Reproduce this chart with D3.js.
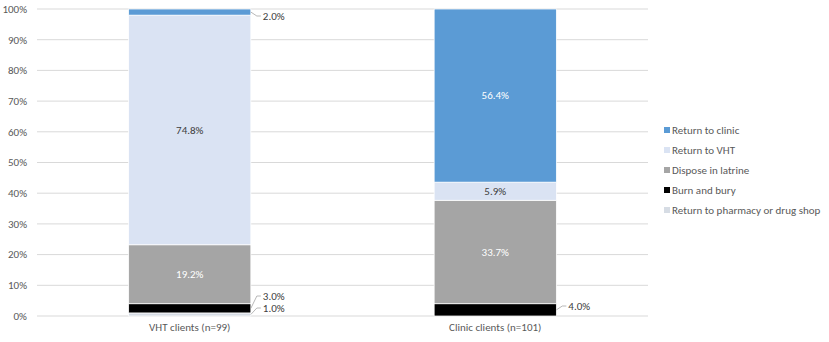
<!DOCTYPE html>
<html>
<head>
<meta charset="utf-8">
<script src="https://cdn.jsdelivr.net/npm/d3@7"></script>
<style>
  body { margin: 0; background: #fff; }
  svg text { font-family: Carlito, Lato, "Liberation Sans", sans-serif; }
</style>
</head>
<body>
<div id="chart"></div>
<script>
const categories = ['VHT clients (n=99)', 'Clinic clients (n=101)'];
// stacked bottom to top
const seriesNames = ['Return to pharmacy or drug shop', 'Burn and bury', 'Dispose in latrine', 'Return to VHT', 'Return to clinic'];
const pharmacy = [1.0, 0];
const burnBury = [3.0, 4.0];
const latrine = [19.2, 33.7];
const returnVHT = [74.8, 5.9];
const returnClinic = [2.0, 56.4];
const yTicks = [0, 10, 20, 30, 40, 50, 60, 70, 80, 90, 100];

const colors = {
  'Return to clinic': '#5B9BD5',
  'Return to VHT': '#DAE3F3',
  'Dispose in latrine': '#A5A5A5',
  'Burn and bury': '#000000',
  'Return to pharmacy or drug shop': '#D6DCE4'
};
const labelColors = {
  'Return to clinic': '#ffffff',
  'Return to VHT': '#404040',
  'Dispose in latrine': '#ffffff'
};

const width = 829, height = 342;
const margin = {top: 9, right: 181, bottom: 26, left: 37};
const fs = '11px';

const svg = d3.select('#chart').append('svg')
    .attr('width', width)
    .attr('height', height);

const x = d3.scaleBand()
    .domain(categories)
    .range([margin.left, width - margin.right])
    .paddingInner(0.6)
    .paddingOuter(0.3);

const y = d3.scaleLinear()
    .domain([0, 100])
    .range([height - margin.bottom, margin.top]);

// gridlines
svg.append('g').selectAll('line').data(yTicks).enter().append('line')
    .attr('x1', margin.left).attr('x2', width - margin.right)
    .attr('y1', d => y(d)).attr('y2', d => y(d))
    .attr('stroke', '#D9D9D9').attr('stroke-width', 1);

// y tick labels
svg.append('g').selectAll('text').data(yTicks).enter().append('text')
    .attr('x', 27).attr('y', d => y(d)).attr('dy', '0.35em')
    .attr('text-anchor', 'end')
    .style('font-size', fs).attr('fill', '#595959')
    .text(d => d + '%');

// x labels
svg.append('g').selectAll('text').data(categories).enter().append('text')
    .attr('x', d => x(d) + x.bandwidth() / 2).attr('y', height - 11)
    .attr('text-anchor', 'middle')
    .style('font-size', fs).attr('fill', '#595959')
    .text(d => d);

const table = categories.map((c, i) => ({
  cat: c,
  'Return to pharmacy or drug shop': pharmacy[i],
  'Burn and bury': burnBury[i],
  'Dispose in latrine': latrine[i],
  'Return to VHT': returnVHT[i],
  'Return to clinic': returnClinic[i]
}));

const stacked = d3.stack().keys(seriesNames)(table);

const layers = svg.append('g').selectAll('g').data(stacked).enter().append('g')
    .attr('fill', d => colors[d.key]);

layers.selectAll('rect').data(d => d.filter(p => p[1] > p[0])).enter().append('rect')
    .attr('x', d => x(d.data.cat))
    .attr('width', x.bandwidth())
    .attr('y', d => y(d[1]))
    .attr('height', d => y(d[0]) - y(d[1]))
    .attr('stroke', '#ffffff')
    .attr('stroke-width', 0.75);

// inside labels
stacked.forEach(s => {
  if (!labelColors[s.key]) return;
  s.forEach(p => {
    if (p[1] - p[0] < 5) return;
    svg.append('text')
        .attr('x', x(p.data.cat) + x.bandwidth() / 2)
        .attr('y', y((p[0] + p[1]) / 2)).attr('dy', '0.35em')
        .attr('text-anchor', 'middle')
        .style('font-size', fs)
        .attr('fill', labelColors[s.key])
        .text((p[1] - p[0]).toFixed(1) + '%');
  });
});

// outside labels with leader lines
function outside(cat, key, ty) {
  const s = stacked.find(d => d.key === key);
  const p = s[categories.indexOf(cat)];
  const x0 = x(cat) + x.bandwidth();
  const yMid = y((p[0] + p[1]) / 2);
  svg.append('path')
      .attr('d', `M${x0},${yMid}L${x0 + 6},${ty}L${x0 + 10},${ty}`)
      .attr('fill', 'none').attr('stroke', '#A6A6A6').attr('stroke-width', 0.8);
  svg.append('text')
      .attr('x', x0 + 12).attr('y', ty).attr('dy', '0.35em')
      .style('font-size', fs).attr('fill', '#404040')
      .text((p[1] - p[0]).toFixed(1) + '%');
}
outside(categories[0], 'Return to clinic', 16);
outside(categories[0], 'Burn and bury', 296);
outside(categories[0], 'Return to pharmacy or drug shop', 308);
outside(categories[1], 'Burn and bury', 306);

// legend
const legendKeys = seriesNames.slice().reverse();
const legend = svg.append('g').selectAll('g').data(legendKeys).enter().append('g')
    .attr('transform', (d, i) => `translate(664, ${130 + i * 20})`);
legend.append('rect')
    .attr('x', 0).attr('y', -3).attr('width', 6).attr('height', 6)
    .attr('fill', d => colors[d]);
legend.append('text')
    .attr('x', 8).attr('dy', '0.35em')
    .style('font-size', fs).attr('fill', '#595959')
    .text(d => d);
</script>
</body>
</html>
